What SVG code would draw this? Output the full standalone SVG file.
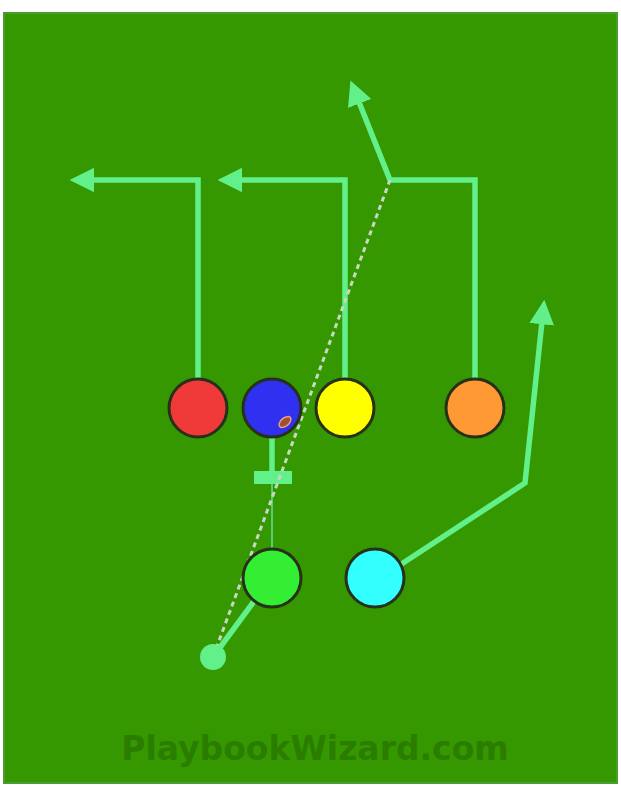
<svg xmlns="http://www.w3.org/2000/svg" width="621" height="791" viewBox="0 0 621 791">
<defs>
<style>
.route{fill:none;stroke:#62f08a;stroke-width:5.5;stroke-linejoin:miter}
.player{stroke:#26301a;stroke-width:3}
.wm{font-family:"DejaVu Sans","Liberation Sans",sans-serif;font-weight:bold;font-size:33px;fill:#2b7d00}
</style>
<marker id="ah" viewBox="0 0 10 10" refX="5" refY="5" markerWidth="4.5" markerHeight="4.5" orient="auto" markerUnits="strokeWidth">
<path d="M0,0 L10,5 L0,10 z" fill="#62f08a"/>
</marker>
</defs>
<rect x="0" y="0" width="621" height="791" fill="#ffffff"/>
<rect x="4" y="13" width="613" height="770" fill="#359800" stroke="#4a9e30" stroke-width="2"/>
<text class="wm" x="315" y="760" text-anchor="middle">PlaybookWizard.com</text>
<g id="connectors">
<polyline class="route" points="198,378 198,180 82,180" marker-end="url(#ah)"/>
<polyline class="route" points="345,378 345,180 230,180" marker-end="url(#ah)"/>
<polyline class="route" points="475,378 475,180 390,180 355,92" marker-end="url(#ah)"/>
<polyline class="route" points="400,565 525,483 543,312" marker-end="url(#ah)"/>
<line class="route" x1="272" y1="438" x2="272" y2="476"/>
<rect x="254" y="471" width="38" height="13" fill="#62f08a"/>
<line x1="272" y1="484" x2="272" y2="549" stroke="#55d070" stroke-width="2"/>
<line class="route" x1="255" y1="600" x2="213" y2="657"/>
<line x1="213" y1="657" x2="390" y2="180" stroke="#c8d8c0" stroke-width="3" stroke-dasharray="5,4"/>
<circle cx="213" cy="657" r="13" fill="#62f08a"/>
</g>
<g id="red"><circle class="player" cx="198" cy="408" r="29" fill="#f03a3a"/></g>
<g id="blue"><circle class="player" cx="272" cy="408" r="29" fill="#3030f0"/>
<ellipse cx="285" cy="422" rx="7" ry="4" fill="#a0502a" stroke="#e0a090" stroke-width="1.5" transform="rotate(-40 285 422)"/></g>
<g id="yellow"><circle class="player" cx="345" cy="408" r="29" fill="#ffff00"/></g>
<g id="orange"><circle class="player" cx="475" cy="408" r="29" fill="#ff9933"/></g>
<g id="green"><circle class="player" cx="272" cy="578" r="29" fill="#33ee33"/></g>
<g id="cyan"><circle class="player" cx="375" cy="578" r="29" fill="#33ffff"/></g>
</svg>
